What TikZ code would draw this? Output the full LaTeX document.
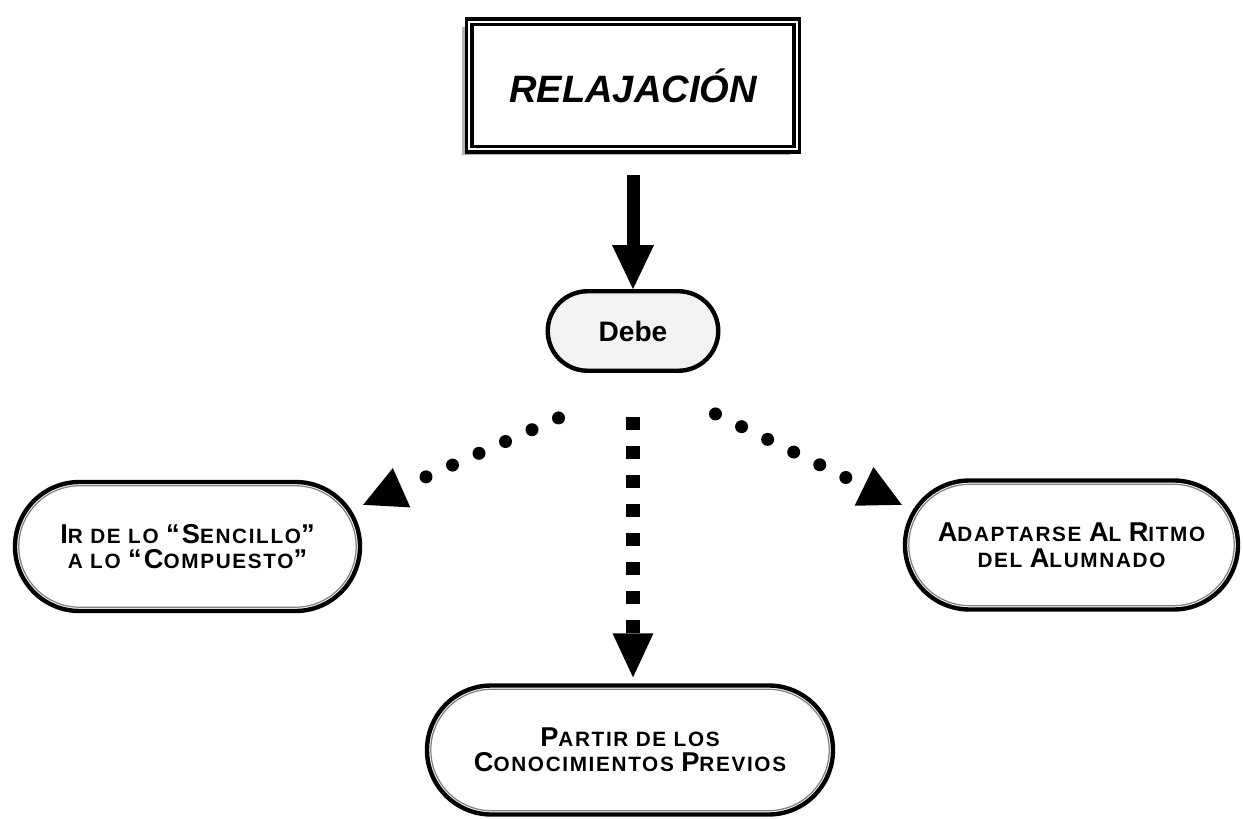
\documentclass[tikz,border=0pt]{standalone}
\usepackage{fontspec}
\setmainfont{Liberation Sans}
\newfontfamily\capsfont[LetterSpace=8]{Liberation Sans}
\usepackage{tikz}
\usetikzlibrary{arrows.meta,shadows}

\newcommand{\bigq}[1]{{\fontsize{15.5}{14.5}\selectfont #1}}

\tikzset{
  titlebox/.style={rectangle, draw, line width=1.8pt, double=white, double distance=1.3pt,
    fill=white, minimum width=6.55cm, minimum height=2.55cm, inner sep=0pt,
    drop shadow={shadow xshift=-4pt, shadow yshift=-3pt, fill=gray!60, opacity=1},
    font=\bfseries\itshape\fontsize{21.7}{24}\selectfont},
  debebox/.style={rectangle, rounded corners=0.795cm, draw, line width=2.5pt, fill=gray!10,
    minimum width=3.41cm, minimum height=1.59cm, inner sep=0pt,
    font=\bfseries\fontsize{16}{18}\selectfont},
  pill/.style={rectangle, rounded corners=1.29cm, draw, line width=2.5pt, fill=white,
    minimum height=2.58cm, inner sep=0pt, align=center,
    font=\capsfont\bfseries\fontsize{11.8}{14.5}\selectfont},
  innerline/.style={draw=gray, line width=0.7pt, rounded corners=1.214cm},
  mainarrow/.style={line width=0.26cm, -{Triangle[length=0.88cm,width=0.84cm,line width=0pt]}},
  dotarrow/.style={line width=0.26cm, line cap=round, dash pattern=on 0pt off 0.58cm,
    -{Triangle[length=0.84cm,width=0.86cm,line width=0pt]}},
  dasharrow/.style={line width=0.28cm, dash pattern=on 0.26cm off 0.32cm,
    -{Triangle[length=0.88cm,width=0.82cm,line width=0pt]}},
}

\begin{document}
\begin{tikzpicture}
\useasboundingbox (0,0) rectangle (24.86,-16.38);

\node[titlebox] (title) at (12.66,-1.71) {RELAJACIÓN};
\node[debebox] (debe) at (12.66,-6.62) {Debe};
\node[pill, minimum width=6.9cm] (sencillo) at (3.75,-10.93)
  {\bigq{I}R DE LO \bigq{“S}ENCILLO\bigq{”}\\A LO \bigq{“C}OMPUESTO\bigq{”}};
\node[pill, minimum width=6.66cm] (ritmo) at (21.43,-10.9)
  {\bigq{A}DAPTARSE \bigq{A}L \bigq{R}ITMO\\DEL \bigq{A}LUMNADO};
\node[pill, minimum width=8.12cm] (previos) at (12.6,-15.0)
  {\bigq{P}ARTIR DE LOS\\\bigq{C}ONOCIMIENTOS \bigq{P}REVIOS};

% thin inner rims
\draw[innerline] ([shift={(0.12,-0.12)}]sencillo.north west) rectangle ([shift={(-0.12,0.12)}]sencillo.south east);
\draw[innerline] ([shift={(0.12,-0.12)}]ritmo.north west) rectangle ([shift={(-0.12,0.12)}]ritmo.south east);
\draw[innerline] ([shift={(0.12,-0.12)}]previos.north west) rectangle ([shift={(-0.12,0.12)}]previos.south east);

% arrows
\draw[mainarrow, shorten <=0.48cm] (title.south) -- (debe.north);
\draw[dotarrow] ([shift={(-1.49,-0.9)}]debe.south) -- ([shift={(0.02,-0.5)}]sencillo.north east);
\draw[dasharrow, shorten <=0.88cm, shorten >=0.12cm] (debe.south) -- (debe.south |- previos.north);
\draw[dotarrow] ([shift={(1.65,-0.82)}]debe.south) -- ([shift={(-0.02,-0.53)}]ritmo.north west);
\end{tikzpicture}
\end{document}
